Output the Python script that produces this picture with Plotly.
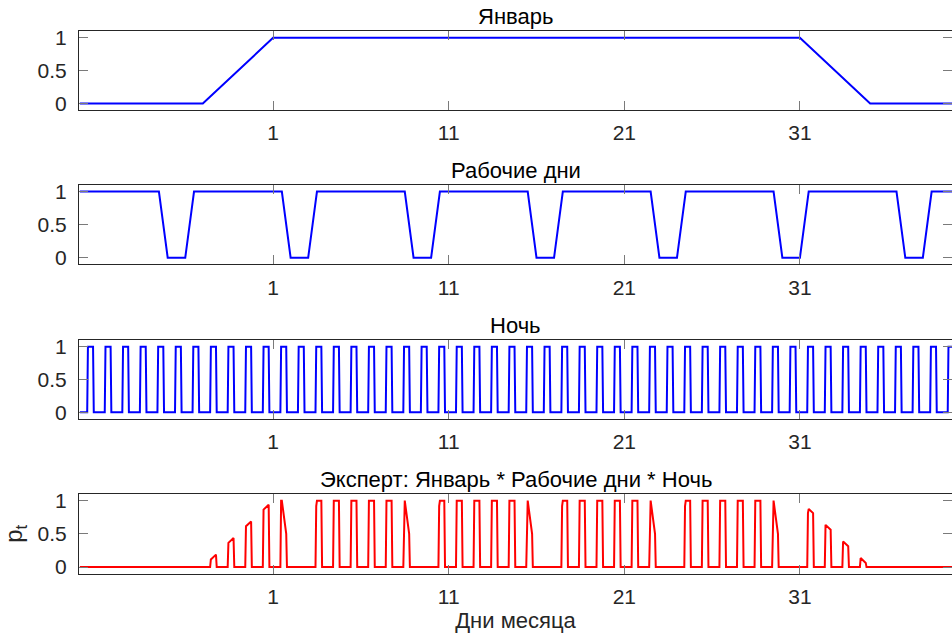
import numpy as np
import plotly.graph_objects as go

# ---------------- data ----------------
x_min, x_max = -10, 40

# January membership: trapezoid breakpoints
jan_x = [-10, -3, 1, 31, 35, 40]
jan_y = [0, 0, 1, 1, 0, 0]

# Working days: weekend dips (day where the descent starts)
weekend_starts = [-5.5, 1.5, 8.5, 15.5, 22.5, 29.5, 36.5]
dip_offsets = [0.0, 0.5, 1.5, 2.0]   # 1 -> 0 -> 0 -> 1
dip_values = [1, 0, 0, 1]

# Night: one pulse per day; offsets (fraction of a day) of the pulse corners
night_days = list(range(-10, 40))
night_offsets = [10 / 24, 11 / 24, 18 / 24, 19 / 24]
night_values = [0, 1, 1, 0]

tick_vals = [1, 11, 21, 31]
tick_text = ["1", "11", "21", "31"]
y_ticks = [0, 0.5, 1]
y_tick_text = ["0", "0.5", "1"]

titles = ["Январь", "Рабочие дни", "Ночь", "Эксперт: Январь * Рабочие дни * Ночь"]
x_title = "Дни месяца"
y_title = "p<sub>t</sub>"

# ---------------- build piecewise-linear series ----------------
wd_x, wd_y = [x_min], [1]
for s in weekend_starts:
    for o, v in zip(dip_offsets, dip_values):
        wd_x.append(s + o)
        wd_y.append(v)
wd_x.append(x_max)
wd_y.append(1)

nt_x, nt_y = [x_min], [0]
for d in night_days:
    for o, v in zip(night_offsets, night_values):
        nt_x.append(d + o)
        nt_y.append(v)
nt_x.append(x_max)
nt_y.append(0)

# expert = product of the three memberships, evaluated at all breakpoints
ex_x = np.unique(np.concatenate([jan_x, wd_x, nt_x]))
ex_y = (np.interp(ex_x, jan_x, jan_y) * np.interp(ex_x, wd_x, wd_y)
        * np.interp(ex_x, nt_x, nt_y))

# ---------------- figure ----------------
H, W = 635, 952
tops = [31.3, 185.0, 340.3, 494.0]
bottoms = [110.0, 264.3, 418.7, 573.7]

fig = go.Figure()
series = [(jan_x, jan_y, "#0000ff"), (wd_x, wd_y, "#0000ff"),
          (nt_x, nt_y, "#0000ff"), (ex_x, ex_y, "#ff0000")]

font_family = "Liberation Sans, Arial, sans-serif"
dark = "#262626"
fs = 21
fs_title = 22

layout = dict(
    width=W, height=H,
    margin=dict(l=79, r=0, t=0, b=0),
    paper_bgcolor="white", plot_bgcolor="white",
    showlegend=False,
    font=dict(family=font_family, size=fs, color=dark),
)

annotations = []
for i, (xs, ys, col) in enumerate(series):
    k = "" if i == 0 else str(i + 1)
    fig.add_trace(go.Scatter(x=list(xs), y=list(ys), mode="lines",
                             line=dict(color=col, width=2),
                             xaxis="x" + k, yaxis="y" + k, hoverinfo="skip"))
    dom = [1 - bottoms[i] / H, 1 - tops[i] / H]
    layout["xaxis" + k] = dict(
        domain=[0, 1], anchor="y" + k, range=[-10.05, 39.66],
        tickvals=tick_vals, ticktext=tick_text, ticks="inside", ticklen=9,
        tickcolor="#7a7a7a", tickwidth=1, showline=True, linecolor=dark,
        linewidth=1, mirror="ticks", showgrid=False, zeroline=False,
        tickfont=dict(size=fs, color=dark), ticklabelstandoff=4,
        automargin=False,
    )
    layout["yaxis" + k] = dict(
        domain=dom, anchor="x" + k, range=[-0.1, 1.1],
        tickvals=y_ticks, ticktext=y_tick_text, ticks="inside", ticklen=9,
        tickcolor="#7a7a7a", tickwidth=1, showline=True, linecolor=dark,
        linewidth=1, mirror="ticks", showgrid=False, zeroline=False,
        tickfont=dict(size=fs, color=dark), ticklabelstandoff=7,
        automargin=False,
    )
    annotations.append(dict(
        text=titles[i], xref="paper", yref="paper", x=0.5, y=dom[1],
        xanchor="center", yanchor="bottom", yshift=0, showarrow=False,
        font=dict(size=fs_title, color="black", family=font_family)))

layout["xaxis4"]["title"] = dict(text=x_title, standoff=2,
                                 font=dict(size=fs_title, color=dark))
layout["yaxis4"]["title"] = dict(text=y_title, standoff=12,
                                 font=dict(size=fs + 3, color=dark))
layout["annotations"] = annotations
fig.update_layout(**layout)

fig.write_html("out.html")
